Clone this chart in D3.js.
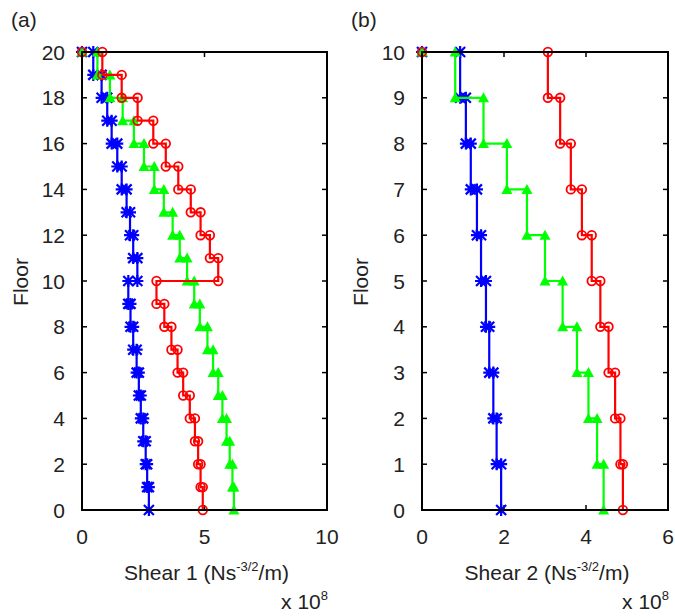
<!DOCTYPE html>
<html>
<head>
<meta charset="utf-8">
<script src="https://cdn.jsdelivr.net/npm/d3@7"></script>
<style>
  body { margin: 0; background: #fff; }
  text { font-family: "Liberation Sans", Arial, sans-serif; fill: #222; }
</style>
</head>
<body>
<script>
// story shear values, listed from top floor down to floor 1 (x 10^8)
var shear1Red   = [0.83, 1.62, 2.27, 2.91, 3.42, 3.93, 4.44, 4.84, 5.22, 5.56,
                   3.04, 3.36, 3.65, 3.90, 4.13, 4.40, 4.61, 4.74, 4.84, 4.93];
var shear1Green = [0.63, 1.14, 1.66, 2.12, 2.53, 2.95, 3.34, 3.70, 3.99, 4.29,
                   4.58, 4.81, 5.12, 5.35, 5.56, 5.73, 5.90, 6.03, 6.14, 6.20];
var shear1Blue  = [0.46, 0.80, 1.03, 1.21, 1.44, 1.62, 1.82, 1.96, 2.09, 2.26,
                   1.89, 1.98, 2.09, 2.23, 2.32, 2.40, 2.50, 2.60, 2.66, 2.73];

var shear2Red   = [3.07, 3.37, 3.63, 3.90, 4.14, 4.35, 4.55, 4.71, 4.84, 4.90];
var shear2Green = [0.81, 1.50, 2.07, 2.56, 3.00, 3.43, 3.78, 4.06, 4.27, 4.43];
var shear2Blue  = [0.93, 1.07, 1.19, 1.34, 1.44, 1.56, 1.64, 1.74, 1.82, 1.93];

var xTicksA = [0, 5, 10], yTicksA = d3.range(0, 21, 2);
var xTicksB = [0, 2, 4, 6], yTicksB = d3.range(0, 11, 1);

var svg = d3.select("body").append("svg")
  .attr("width", 675)
  .attr("height", 616);

// turn per-story values into a stair polyline: (0,top) -> (s_top,top) -> (s_top,top-1) -> ...
function stairs(vals) {
  var n = vals.length, pts = [[0, n]];
  vals.forEach(function(v, i) {
    var f = n - i;
    pts.push([v, f]);
    pts.push([v, f - 1]);
  });
  return pts;
}

function drawPanel(cfg) {
  var x = d3.scaleLinear().domain(cfg.xDomain).range([cfg.left, cfg.right]);
  var y = d3.scaleLinear().domain(cfg.yDomain).range([510, 52]);
  var g = svg.append("g");

  // inward ticks on all four sides
  var tl = 5;
  cfg.xTicks.forEach(function(t) {
    if (t === cfg.xDomain[0] || t === cfg.xDomain[1]) return;
    g.append("line").attr("x1", x(t)).attr("x2", x(t)).attr("y1", 510).attr("y2", 510 - tl)
      .attr("stroke", "#000").attr("stroke-width", 1.5);
    g.append("line").attr("x1", x(t)).attr("x2", x(t)).attr("y1", 52).attr("y2", 52 + tl)
      .attr("stroke", "#000").attr("stroke-width", 1.5);
  });
  cfg.yTicks.forEach(function(t) {
    if (t === cfg.yDomain[0] || t === cfg.yDomain[1]) return;
    g.append("line").attr("x1", cfg.left).attr("x2", cfg.left + tl).attr("y1", y(t)).attr("y2", y(t))
      .attr("stroke", "#000").attr("stroke-width", 1.5);
    g.append("line").attr("x1", cfg.right).attr("x2", cfg.right - tl).attr("y1", y(t)).attr("y2", y(t))
      .attr("stroke", "#000").attr("stroke-width", 1.5);
  });

  // tick labels
  g.selectAll(".xt").data(cfg.xTicks).enter().append("text")
    .attr("x", function(d) { return x(d); })
    .attr("y", 544)
    .attr("text-anchor", "middle")
    .style("font-size", "21px")
    .text(function(d) { return d; });
  g.selectAll(".yt").data(cfg.yTicks).enter().append("text")
    .attr("x", cfg.left - 17)
    .attr("y", function(d) { return y(d); })
    .attr("dy", "0.36em")
    .attr("text-anchor", "end")
    .style("font-size", "21px")
    .text(function(d) { return d; });

  var line = d3.line().x(function(d) { return x(d[0]); }).y(function(d) { return y(d[1]); });

  cfg.series.forEach(function(s) {
    var pts = stairs(s.vals);
    g.append("path").datum(pts)
      .attr("d", line)
      .attr("fill", "none")
      .attr("stroke", s.color)
      .attr("stroke-width", 2.2);

    var m = g.selectAll(null).data(pts).enter().append("g")
      .attr("transform", function(d) { return "translate(" + x(d[0]) + "," + y(d[1]) + ")"; });
    if (s.marker === "circle") {
      m.append("circle").attr("r", 4.3).attr("fill", "none")
        .attr("stroke", s.color).attr("stroke-width", 1.8);
    } else if (s.marker === "triangle") {
      m.append("path").attr("d", "M0,-5.5L5.5,4.5L-5.5,4.5Z").attr("fill", s.color);
    } else {
      m.append("path").attr("d", "M-5,-5L5,5M-5,5L5,-5M-6,0L6,0M0,-6L0,6")
        .attr("stroke", s.color).attr("stroke-width", 2.2);
    }
  });

  // box
  g.append("rect")
    .attr("x", cfg.left).attr("y", 52)
    .attr("width", cfg.right - cfg.left).attr("height", 458)
    .attr("fill", "none").attr("stroke", "#000").attr("stroke-width", 2);

  // labels
  var cx = (cfg.left + cfg.right) / 2;
  var xl = g.append("text")
    .attr("x", cx + 2).attr("y", 580)
    .attr("text-anchor", "middle")
    .style("font-size", "21px");
  xl.append("tspan").text(cfg.xLabel + " (Ns");
  xl.append("tspan").attr("dy", -9).style("font-size", "13px").text("-3/2");
  xl.append("tspan").attr("dy", 9).text("/m)");

  var ex = g.append("text")
    .attr("x", cfg.right + 1).attr("y", 609)
    .attr("text-anchor", "end")
    .style("font-size", "21px");
  ex.append("tspan").text("x 10");
  ex.append("tspan").attr("dy", -9).style("font-size", "13px").text("8");

  g.append("text")
    .attr("transform", "translate(" + (cfg.left - 54) + ",282) rotate(-90)")
    .attr("text-anchor", "middle")
    .style("font-size", "21px")
    .text("Floor");

  g.append("text")
    .attr("x", cfg.left - 71).attr("y", 27)
    .style("font-size", "21px")
    .text(cfg.tag);
}

drawPanel({
  left: 82, right: 327, xDomain: [0, 10], yDomain: [0, 20],
  xTicks: xTicksA, yTicks: yTicksA, xLabel: "Shear 1", tag: "(a)",
  series: [
    {vals: shear1Blue, color: "#0000ff", marker: "star"},
    {vals: shear1Green, color: "#00ff00", marker: "triangle"},
    {vals: shear1Red, color: "#ff0000", marker: "circle"}
  ]
});

drawPanel({
  left: 422, right: 668, xDomain: [0, 6], yDomain: [0, 10],
  xTicks: xTicksB, yTicks: yTicksB, xLabel: "Shear 2", tag: "(b)",
  series: [
    {vals: shear2Blue, color: "#0000ff", marker: "star"},
    {vals: shear2Green, color: "#00ff00", marker: "triangle"},
    {vals: shear2Red, color: "#ff0000", marker: "circle"}
  ]
});
</script>
</body>
</html>
